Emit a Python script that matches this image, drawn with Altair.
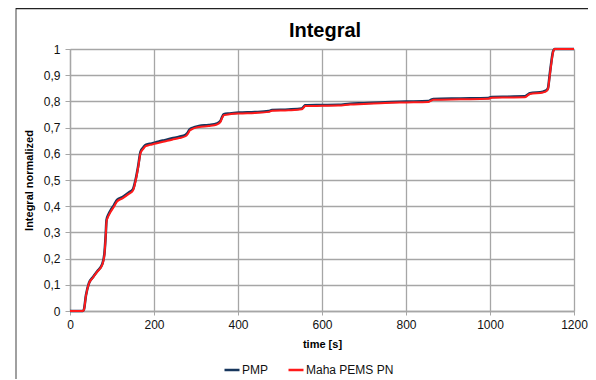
import altair as alt
import pandas as pd

time_s = [0, 30, 33, 38, 45, 55, 65, 77, 82, 85, 87, 92, 97, 105, 112, 125, 140, 150, 156, 162,
          168, 175, 180, 190, 201, 212, 225, 243, 260, 275, 280, 285, 293, 307, 330, 350, 358, 362,
          366, 380, 402, 440, 473, 481, 520, 552, 556, 560, 600, 639, 667, 700, 750, 800, 853, 860,
          865, 930, 996, 1004, 1043, 1083, 1090, 1095, 1126, 1134, 1138, 1142, 1146, 1150, 1154, 1200]

pmp = [0, 0, 0.005, 0.06, 0.106, 0.13, 0.152, 0.18, 0.22, 0.29, 0.347, 0.37, 0.385, 0.405, 0.424,
       0.435, 0.452, 0.465, 0.50, 0.55, 0.608, 0.625, 0.634, 0.638, 0.642, 0.647, 0.652, 0.659,
       0.665, 0.672, 0.68, 0.693, 0.700, 0.706, 0.71, 0.716, 0.725, 0.74, 0.751, 0.754, 0.757,
       0.759, 0.763, 0.767, 0.769, 0.773, 0.779, 0.785, 0.786, 0.787, 0.791, 0.793, 0.797, 0.799,
       0.801, 0.806, 0.809, 0.811, 0.813, 0.817, 0.818, 0.819, 0.826, 0.831, 0.837, 0.842, 0.85,
       0.9, 0.95, 0.99, 1.0, 1.0]

maha = [0, 0, 0.004, 0.058, 0.104, 0.128, 0.150, 0.177, 0.215, 0.285, 0.342, 0.364, 0.379, 0.399,
        0.418, 0.430, 0.447, 0.460, 0.495, 0.545, 0.603, 0.620, 0.629, 0.634, 0.638, 0.642, 0.647,
        0.654, 0.660, 0.667, 0.675, 0.688, 0.696, 0.702, 0.706, 0.712, 0.721, 0.736, 0.747, 0.751,
        0.754, 0.756, 0.760, 0.764, 0.766, 0.770, 0.776, 0.782, 0.783, 0.784, 0.788, 0.790, 0.794,
        0.796, 0.798, 0.803, 0.806, 0.808, 0.810, 0.814, 0.815, 0.816, 0.823, 0.828, 0.834, 0.839,
        0.847, 0.895, 0.945, 0.987, 1.0, 1.0]

series = ["PMP", "Maha PEMS PN"]
colors = ["#17365D", "#FF1A1A"]
chart_title = "Integral"

df_pmp = pd.DataFrame({"t": time_s, "v": pmp, "s": series[0]})
df_maha = pd.DataFrame({"t": time_s, "v": maha, "s": series[1]})

FONT = "Liberation Sans"
GRID = "#A6A6A6"

x = alt.X("t:Q", title="time [s]",
          scale=alt.Scale(domain=[0, 1200], nice=False),
          axis=alt.Axis(values=[0, 200, 400, 600, 800, 1000, 1200], grid=True, format="d",
                        labelFlush=False,
                        gridColor=GRID, gridWidth=1.3, domainColor=GRID, domainWidth=1.3,
                        tickColor=GRID, tickSize=4, labelPadding=4, labelFontSize=12,
                        labelColor="#111", titleFontSize=11, titleFontWeight="bold",
                        titleColor="#000", titlePadding=8, labelFont=FONT, titleFont=FONT))
y = alt.Y("v:Q", title="Integral normalized",
          scale=alt.Scale(domain=[0, 1], nice=False),
          axis=alt.Axis(values=[0, 0.1, 0.2, 0.3, 0.4, 0.5, 0.6, 0.7, 0.8, 0.9, 1.0], grid=True,
                        labelFlush=False,
                        gridColor=GRID, gridWidth=1.3, domainColor=GRID, domainWidth=1.3,
                        tickColor=GRID, tickSize=5, labelPadding=5, labelFontSize=12,
                        labelColor="#111", titleFontSize=11, titleFontWeight="bold",
                        titleColor="#000", titlePadding=9, labelFont=FONT, titleFont=FONT,
                        labelExpr="replace(format(datum.value, '.1~f'), '.', ',')"))
color = alt.Color("s:N", scale=alt.Scale(domain=series, range=colors),
                  legend=alt.Legend(title=None, orient="none", direction="horizontal",
                                    legendX=153, legendY=312, symbolType="stroke",
                                    symbolSize=225, symbolStrokeWidth=2.5, labelFontSize=12,
                                    labelFont=FONT, labelColor="#111", columnPadding=14,
                                    labelOffset=1))

line_pmp = alt.Chart(df_pmp).mark_line(strokeWidth=2.6, interpolate="monotone").encode(x=x, y=y, color=color)
line_maha = alt.Chart(df_maha).mark_line(strokeWidth=2.0, interpolate="monotone").encode(x=x, y=y, color=color)

one = pd.DataFrame({"label": [chart_title]})
title_mark = alt.Chart(one).mark_text(fontSize=20, fontWeight="bold", font=FONT, color="#000",
                                      align="center", baseline="alphabetic").encode(
    text="label:N", x=alt.value(255), y=alt.value(-12))
frame_left = alt.Chart(one).mark_rule(color="#808080", strokeWidth=1.5, clip=False).encode(
    x=alt.value(-54), y=alt.value(-41), y2=alt.value(335))
frame_top = alt.Chart(one).mark_rule(color="#222", strokeWidth=1.5, clip=False).encode(
    x=alt.value(-54), x2=alt.value(520), y=alt.value(-40.5))

chart = alt.layer(line_pmp, line_maha, title_mark, frame_left, frame_top).properties(
    width=504, height=262,
    autosize=alt.AutoSizeParams(type="none"),
    padding={"left": 62, "top": 41, "right": 14, "bottom": 68},
).configure_view(stroke=None).configure(background="white")

chart.save("out.html", embed_options={"renderer": "svg", "actions": False})
